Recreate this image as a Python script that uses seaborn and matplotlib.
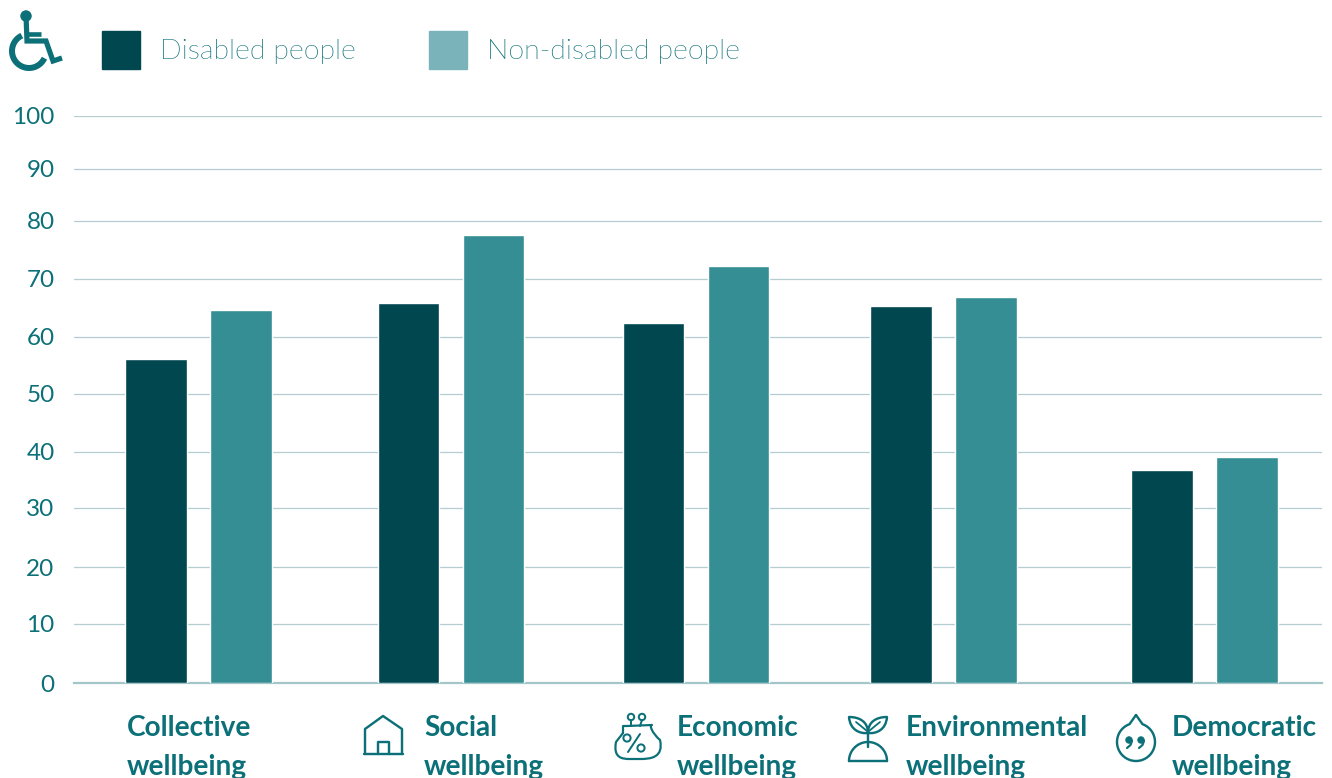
import numpy as np
import pandas as pd
import matplotlib
matplotlib.use("Agg")
import matplotlib.pyplot as plt
from matplotlib import font_manager as fm
from matplotlib.patches import Patch, Circle, PathPatch
from matplotlib.path import Path
from matplotlib.scale import FuncScale
from matplotlib.transforms import Affine2D
import seaborn as sns

categories = ["Collective", "Social", "Economic", "Environmental", "Democratic"]
disabled = [56.2, 65.9, 62.4, 65.4, 36.8]
non_disabled = [64.7, 77.6, 72.2, 66.9, 39.1]
series_names = ["Disabled people", "Non-disabled people"]
y_ticks = [0, 10, 20, 30, 40, 50, 60, 70, 80, 90, 100]
group_centres = [198.5, 451.0, 696.0, 943.5, 1204.5]

INK = "#0C7078"
DARK = "#00474F"
MID = "#358E94"
LIGHT = "#7AB3BA"
GRID = "#B4CDD0"
BASE = "#A3C6C9"

W, H = 1332, 778
sns.set_theme(style="white")
plt.rcParams["font.family"] = ["Lato", "DejaVu Sans"]


def light_face(size):
    """Lato Light at the given size, or regular Lato where that cut is absent."""
    for entry in fm.fontManager.ttflist:
        base = entry.fname.rsplit("/", 1)[-1].lower()
        if entry.name == "Lato" and "light" in base and "italic" not in base:
            return fm.FontProperties(fname=entry.fname, size=size)
    return fm.FontProperties(family="Lato", size=size)


fig = plt.figure(figsize=(W / 100, H / 100), dpi=100, facecolor="white")
AX_L, AX_R, AX_T, AX_B = 74, 1322, 116, 683
ax = fig.add_axes([AX_L / W, 1 - AX_B / H, (AX_R - AX_L) / W, (AX_B - AX_T) / H])

frame = pd.DataFrame({
    "group": group_centres * 2,
    "value": disabled + non_disabled,
    "series": [series_names[0]] * 5 + [series_names[1]] * 5,
})
sns.barplot(data=frame, x="group", y="value", hue="series", native_scale=True,
            palette=[DARK, MID], hue_order=series_names, width=170 / 245.0, gap=0.272,
            legend=False, zorder=3, ax=ax, saturation=1, errorbar=None)

# The value axis has slightly irregular tick spacing, so it runs on a piecewise scale.
spacing = np.array([0, 59, 116, 175, 231, 289, 346, 404, 462, 514, 567], dtype=float)
ax.set_yscale(FuncScale(ax.yaxis, (
    lambda v: np.interp(v, y_ticks, spacing),
    lambda p: np.interp(p, spacing, y_ticks),
)))
ax.set_xlim(AX_L, AX_R)
ax.set_ylim(0, 100)
ax.set_yticks(y_ticks)
ax.set_xticks([])
ax.set_xlabel("")
ax.set_ylabel("")
ax.yaxis.grid(True, color=GRID, lw=0.9)
ax.set_axisbelow(True)
ax.tick_params(axis="y", length=0, pad=14, labelcolor=INK, labelsize=17.5)
for name in ["top", "right", "left"]:
    ax.spines[name].set_visible(False)
ax.spines["bottom"].set_color(BASE)
ax.spines["bottom"].set_linewidth(1.6)

# Legend above the plot
handles = [Patch(color=DARK, label=series_names[0]), Patch(color=LIGHT, label=series_names[1])]
LEG_FS = 20.5
px = 100 / 72
fig.legend(handles=handles, loc="center left", bbox_to_anchor=(102 / W, 1 - 50 / H), ncol=2,
           frameon=False, prop=light_face(LEG_FS), labelcolor=INK,
           handlelength=38 / (LEG_FS * px), handleheight=1.655,
           handletextpad=20 / (LEG_FS * px), columnspacing=73.5 / (LEG_FS * px),
           borderpad=0, borderaxespad=0)

# Two-line category labels
label_x = [127, 424, 677, 906, 1172]
for x, name in zip(label_x, categories):
    fig.text(x / W, 1 - 728.5 / H, name, color=INK, fontsize=20.2, fontweight="bold", va="center", ha="left")
    fig.text(x / W, 1 - 766.5 / H, "wellbeing", color=INK, fontsize=20.2, fontweight="bold", va="center", ha="left")

# Icons, drawn in figure pixels with y pointing down
px_tf = Affine2D().scale(1 / W, -1 / H).translate(0, 1) + fig.transFigure


def stroke(points, lw=2.4, closed=False, color=INK, cap="round", join="round"):
    pts = list(points)
    codes = [Path.MOVETO] + [Path.LINETO] * (len(pts) - 1)
    if closed:
        pts.append(pts[0])
        codes.append(Path.CLOSEPOLY)
    fig.add_artist(PathPatch(Path(pts, codes), transform=px_tf, fill=False, ec=color, lw=lw * 0.72,
                             joinstyle=join, capstyle=cap))


def curve(verts, codes, lw=2.4):
    fig.add_artist(PathPatch(Path(verts, codes), transform=px_tf, fill=False, ec=INK, lw=lw * 0.72,
                             joinstyle="round", capstyle="round"))


def ring(cx, cy, r, lw=2.4, filled=False):
    fig.add_artist(Circle((cx, cy), r, transform=px_tf, fill=filled, fc=INK, ec=INK, lw=lw * 0.72))


def arc(cx, cy, r, a0, a1, lw=2.4, cap="round"):
    t = np.radians(np.linspace(a0, a1, 40))
    stroke(np.column_stack([cx + r * np.cos(t), cy + r * np.sin(t)]), lw=lw, cap=cap)


# wheelchair
ring(26, 16, 5.2, lw=1, filled=True)
stroke([(26, 16), (27, 41), (46, 41), (53, 61), (62, 58)], lw=5.2, cap="butt", join="miter")
stroke([(27, 34), (41, 34)], lw=4.6, cap="butt")
arc(29, 51, 17, 25, 245, lw=6, cap="butt")

# house
stroke([(365, 754), (365, 729), (383, 716), (402, 729), (402, 754)])
stroke([(364, 754), (403, 754)])
stroke([(378, 754), (378, 742), (389, 742), (389, 754)])

# purse
ring(631, 717, 3.2, lw=2)
ring(642, 717, 3.2, lw=2)
stroke([(631, 720), (631, 726)], lw=2)
stroke([(642, 720), (640, 726)], lw=2)
M, L, C = Path.MOVETO, Path.LINETO, Path.CURVE4
curve([(623, 733), (623, 726), (623, 726), (631, 726), (652, 725), (649, 725), (652, 733),
       (660, 740), (664, 758), (650, 759), (640, 759), (630, 759), (622, 759), (613, 758), (616, 742), (623, 733)],
      [M, L, C, C, L, C, C, C, C, C, C, L, C, C, C, L], lw=2.2)
ring(627, 738, 3.6, lw=2)
ring(641, 748, 3.6, lw=2)
stroke([(640, 734), (628, 752)], lw=2)

# seedling
stroke([(868, 747), (868, 730)])
stroke([(849, 761), (887, 761)])
arc(868, 761, 19, 180, 360)
curve([(868, 733), (860, 734), (850, 730), (849, 717), (860, 717), (868, 722), (868, 733)],
      [M, C, C, C, C, C, C])
curve([(868, 733), (876, 734), (886, 730), (887, 717), (876, 717), (868, 722), (868, 733)],
      [M, C, C, C, C, C, C])
stroke([(856, 722), (867, 731)], lw=1.8)
stroke([(880, 722), (869, 731)], lw=1.8)

# speech drop with closing quotes
t = np.radians(np.linspace(-70, 250, 60))
drop = np.column_stack([1136 + 19 * np.cos(t), 742 + 19 * np.sin(t)])
stroke(np.vstack([[(1136, 715)], drop, [(1136, 715)]]))
for qx in (1129, 1141):
    ring(qx, 740, 3.2, lw=1, filled=True)
    stroke([(qx + 3, 741), (qx + 1.5, 745), (qx - 2, 748)], lw=2.2)

fig.savefig("out.png", dpi=100, facecolor="white")
